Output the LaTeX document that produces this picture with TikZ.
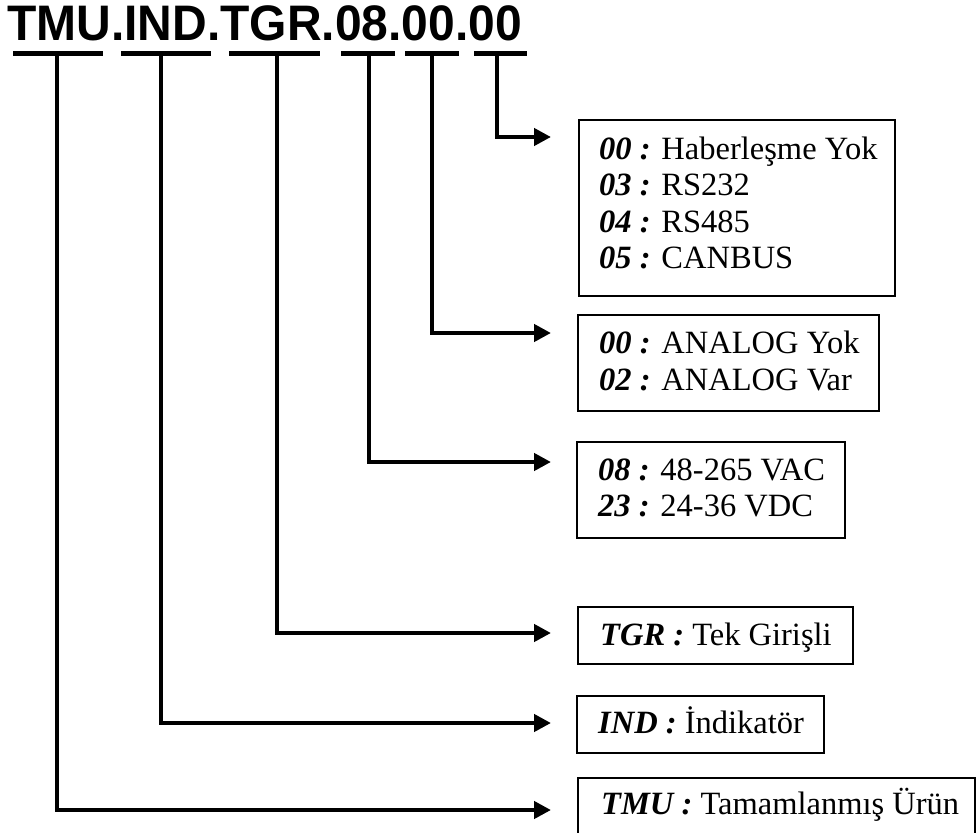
\documentclass[tikz,border=0pt]{standalone}
\usepackage{fontspec}
\setmainfont{Liberation Serif}
\newfontfamily\titlefont{Liberation Sans}
\usetikzlibrary{arrows.meta}
\tikzset{
  uline/.style={line width=5pt},
  conn/.style={line width=4.5pt, -{Triangle[length=17pt,width=17pt]}},
  infobox/.style={draw, line width=2pt, anchor=north west, inner sep=0pt},
  lbl/.style={anchor=base west, inner sep=0pt, font=\fontsize{32.5}{36}\selectfont},
}
\newcommand{\kod}[1]{\textbf{\textit{#1}}}
\begin{document}
\begin{tikzpicture}[x=1pt,y=-1pt]
\useasboundingbox (0,0) rectangle (976,832);
% title
\node[anchor=base west, inner sep=0pt, font=\titlefont\bfseries\fontsize{48}{50}\selectfont] (title) at (7,41) {\scalebox{1}[1.04]{TMU.IND.TGR.08.00.00}};
% underlines
\draw[uline] (13,54) -- (103,54);
\draw[uline] (121,54) -- (211,54);
\draw[uline] (229,54) -- (320,54);
\draw[uline] (341,54) -- (395,54);
\draw[uline] (405,54) -- (459,54);
\draw[uline] (474,54) -- (527,54);
\coordinate (uTMU) at (57,54);
\coordinate (uIND) at (161,54);
\coordinate (uTGR) at (277,54);
\coordinate (uV) at (369,54);
\coordinate (uA) at (432,54);
\coordinate (uC) at (497,54);
% boxes
\node[infobox, minimum width=316pt, minimum height=176pt] (bC) at (578,119) {};
\node[infobox, minimum width=301pt, minimum height=96pt] (bA) at (577,314) {};
\node[infobox, minimum width=268pt, minimum height=96pt] (bV) at (576,441) {};
\node[infobox, minimum width=275pt, minimum height=57pt] (bTGR) at (577,606) {};
\node[infobox, minimum width=247pt, minimum height=57pt] (bIND) at (576,695) {};
\node[infobox, minimum width=397pt, minimum height=70pt] (bTMU) at (577,777) {};
% texts
\node[lbl] (t1) at (599,159) {\kod{00 :} Haberleşme Yok};
\node[lbl] (t2) at (599,195.5) {\kod{03 :} RS232};
\node[lbl] (t3) at (599,232) {\kod{04 :} RS485};
\node[lbl] (t4) at (599,268.5) {\kod{05 :} CANBUS};
\node[lbl] (t5) at (599,353) {\kod{00 :} ANALOG Yok};
\node[lbl] (t6) at (599,390) {\kod{02 :} ANALOG Var};
\node[lbl] (t7) at (598,480) {\kod{08 :} 48-265 VAC};
\node[lbl] (t8) at (598,516) {\kod{23 :} 24-36 VDC};
\node[lbl] (t9) at (600,645) {\kod{TGR :} Tek Girişli};
\node[lbl] (t10) at (598,733) {\kod{IND :} İndikatör};
\node[lbl] (t11) at (601,814) {\kod{TMU :} Tamamlanmış Ürün};
% arrow ends
\coordinate (eC) at (551,137);
\coordinate (eA) at (551,333);
\coordinate (eV) at (551,462);
\coordinate (eTGR) at (551,633);
\coordinate (eIND) at (551,723);
\coordinate (eTMU) at (551,810);
% connectors
\draw[conn] (uC) |- (eC);
\draw[conn] (uA) |- (eA);
\draw[conn] (uV) |- (eV);
\draw[conn] (uTGR) |- (eTGR);
\draw[conn] (uIND) |- (eIND);
\draw[conn] (uTMU) |- (eTMU);
\end{tikzpicture}
\end{document}
